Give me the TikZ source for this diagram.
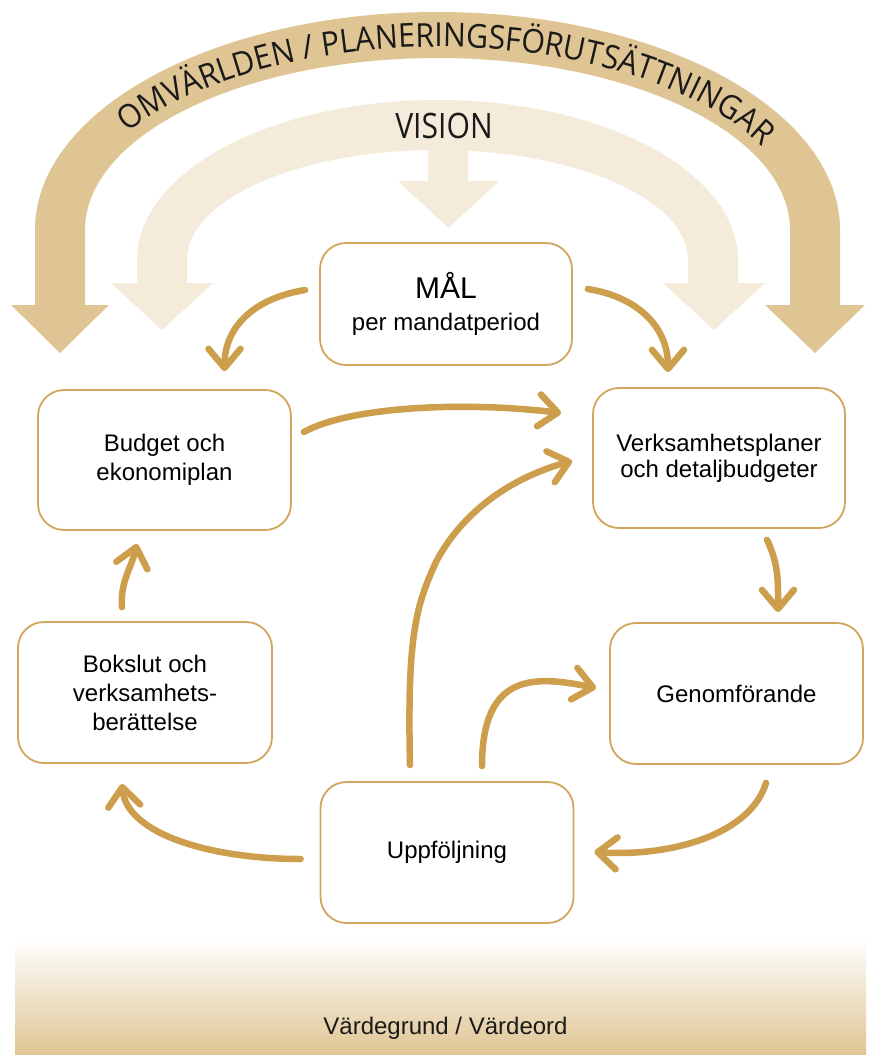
\documentclass[tikz,border=0pt]{standalone}
\usepackage{fontspec}
\setmainfont{Liberation Sans}
\newfontfamily\arcfont[FakeStretch=0.92]{Open Sans}
\newfontfamily\visfont[FakeStretch=0.86]{Open Sans}
\usetikzlibrary{arrows.meta,decorations.text,calc}
\definecolor{outerC}{RGB}{224,197,148}
\definecolor{lightC}{RGB}{245,235,219}
\definecolor{boxC}{RGB}{210,165,92}
\definecolor{arrC}{RGB}{205,158,76}
\definecolor{txtC}{RGB}{26,26,26}
\begin{document}
\begin{tikzpicture}[x=1pt,y=1pt,
  box/.style={draw=boxC,line width=1.8pt,rounded corners=26pt,fill=white,align=center,inner sep=0pt,text=black,font=\fontsize{24}{29}\selectfont},
  conn/.style={draw=arrC,line width=6.5pt,line cap=round,-{Straight Barb[length=19pt,width=32pt,round]}}]
\useasboundingbox (0,0) rectangle (869,-1055);
\fill[white] (0,0) rectangle (869,-1055);

% bottom gradient
\shade[top color=white,bottom color=outerC] (15,-938) rectangle (866,-1055);
\node[font=\fontsize{24}{29}\selectfont,text=txtC,anchor=base,inner sep=0pt] (vg) at (445.5,-1034) {Värdegrund / Värdeord};

% outer arch
\fill[outerC] (60,-353) -- (11,-305) -- (35,-305) -- (35,-230)
  arc[start angle=180,end angle=0,x radius=402.5,y radius=218]
  -- (840,-305) -- (865,-305) -- (815,-353) -- (765,-305) -- (790,-305) -- (790,-230)
  arc[start angle=0,end angle=180,x radius=352.5,y radius=172]
  -- (85,-305) -- (109,-305) -- cycle;

% light arch
\fill[lightC] (162,-330) -- (111,-283) -- (137,-283) -- (137,-260)
  arc[start angle=180,end angle=0,x radius=300.5,y radius=160]
  -- (738,-283) -- (765,-283) -- (714,-330) -- (663,-283) -- (688,-283) -- (688,-260)
  arc[start angle=0,end angle=180,x radius=250.5,y radius=110]
  -- (187,-283) -- (213,-283) -- cycle;
\fill[lightC] (428,-140) -- (428,-181) -- (398,-181) -- (448.5,-228) -- (499,-181) -- (468,-181) -- (468,-140) -- cycle;

\node[font=\visfont\fontsize{35}{35}\selectfont,text=txtC,anchor=base,inner sep=0pt] (vision) at (444,-138) {VISION};

\path[decorate,decoration={text along path,text align=left,
  text={|\arcfont\fontsize{33}{33}\selectfont\color{txtC}|OMVÄRLDEN / PLANERINGSFÖRUTSÄTTNINGAR}}]
  ([shift={(148:365 and 183)}]437.5,-230) arc[start angle=148,end angle=3,x radius=365,y radius=183];

% boxes
\node[box,minimum width=252pt,minimum height=122pt,font=\fontsize{24}{32}\selectfont] (mal) at (446,-304) {{\fontsize{30}{32}\selectfont MÅL}\\per mandatperiod};
\node[box,minimum width=253pt,minimum height=140pt] (budget) at (164.5,-460) {Budget och\\ekonomiplan};
\node[box,minimum width=252pt,minimum height=140pt,font=\fontsize{24}{26}\selectfont] (verks) at (719,-458) {Verksamhetsplaner\\och detaljbudgeter};
\node[box,minimum width=254pt,minimum height=141pt] (bokslut) at (145,-692.5) {Bokslut och\\verksamhets-\\berättelse};
\node[box,minimum width=253pt,minimum height=141pt] (genom) at (736.5,-693.5) {Genomförande};
\node[box,minimum width=253pt,minimum height=141pt] (uppf) at (447,-852.5) {Uppföljning};

% connectors
\draw[conn] ([shift={(-14,14)}]mal.west) .. controls +(-50,-8) and +(0,45) .. ([shift={(60,18)}]budget.north);
\draw[conn] ([shift={(15,15)}]mal.east) .. controls +(50,-8) and +(0,45) .. ([shift={(-51,15)}]verks.north);
\draw[conn] ([shift={(12,28)}]budget.east) .. controls +(45,25) and +(-100,12) .. ([shift={(-31,45)}]verks.west);
\coordinate (mid4) at (437,-560);
\draw[conn] ([shift={(-37,16)}]uppf.north) .. controls +(-3,130) and (416,-605) .. (mid4)
  .. controls (467,-505) and (520,-475) .. ([shift={(-20,-3)}]verks.west);
\draw[conn] ([shift={(35,15)}]uppf.north) .. controls +(0,95) and +(-60,12) .. ([shift={(-13,5.5)}]genom.west);
\draw[conn] ([shift={(48,-11)}]verks.south) .. controls +(12,-25) and +(0,30) .. ([shift={(41.5,10)}]genom.north);
\draw[conn] ([shift={(29.5,-18)}]genom.south) .. controls +(-15,-50) and +(80,-5) .. ([shift={(20,0.5)}]uppf.east);
\draw[conn] ([shift={(-19,-6.5)}]uppf.west) .. controls +(-90,0) and +(5,-50) .. ([shift={(-23,-20)}]bokslut.south);
\draw[conn] ([shift={(-23,14)}]bokslut.north) .. controls +(-2,25) and +(-6,-25) .. ([shift={(-27.5,-13)}]budget.south);
\end{tikzpicture}
\end{document}
